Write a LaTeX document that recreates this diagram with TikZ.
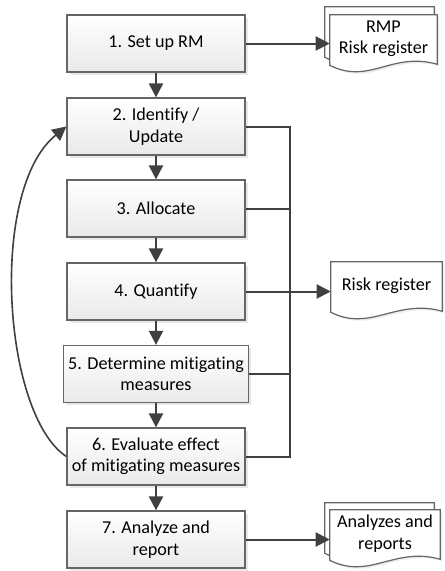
\documentclass[tikz,border=0pt]{standalone}
\usepackage{fontspec}
\setmainfont[Ligatures=NoCommon]{Carlito}
\usepackage{tikz}
\usetikzlibrary{arrows.meta,positioning,calc,shadows,backgrounds}
\definecolor{linegray}{HTML}{404040}
\definecolor{boxgray}{HTML}{666666}
\newcommand{\boxfont}{\fontsize{13.6}{16}\selectfont}
\newcommand{\docpath}[1]{\draw[doc](#1.north west)--(#1.north east)--([yshift=-1.5pt]#1.south east)
  .. controls +(-46,-13) and +(40,20) .. ([yshift=-2.25pt]#1.south west)--cycle;}

\begin{document}
\begin{tikzpicture}[x=0.75pt,y=-0.75pt,>={Triangle[length=10.5pt,width=10.5pt]},
  n/.style={rectangle,draw=boxgray,line width=0.9pt,top color=white,bottom color=gray!17,minimum width=133.5pt,
    minimum height=42.75pt,align=center,font=\boxfont,
    drop shadow={shadow xshift=2pt,shadow yshift=-2pt,opacity=.18}},
  d/.style={inner sep=0pt,minimum height=35.25pt,align=center,font=\boxfont},
  doc/.style={draw=boxgray,line width=0.9pt,fill=white,drop shadow={shadow xshift=1.5pt,shadow yshift=-1.5pt,opacity=.15}},
  l/.style={draw=linegray,line width=1.5pt}]
  \useasboundingbox (0,0) rectangle (444,571);
  % process steps
  \node[n](b1)at(156,43.5){1. Set up RM};
  \node[n](b2)at(156,126.5){2. Identify /\\Update};
  \node[n](b3)at(156,208.5){3. Allocate};
  \node[n](b4)at(156,291.5){4. Quantify};
  \node[n](b5)at(156,374){5. Determine mitigating\\measures};
  \node[n](b6)at(156,456.5){6. Evaluate effect\\of mitigating measures};
  \node[n](b7)at(156,539.5){7. Analyze and\\report};
  % documents
  \node[d,minimum width=81.75pt](d1b)at(379.5,30.5){};
  \node[d,minimum width=80.25pt](d1)at(383.5,38.5){RMP\\Risk register};
  \node[d,minimum width=83.25pt](d2)at(386.5,285.5){Risk register};
  \node[d,minimum width=81.75pt](d3b)at(379.5,526.5){};
  \node[d,minimum width=82.5pt](d3)at(385,533.5){Analyzes and\\reports};
  \begin{pgfonlayer}{background}
    \docpath{d1b}\docpath{d1}\docpath{d2}\docpath{d3b}\docpath{d3}
  \end{pgfonlayer}
  % flow
  \draw[l,->](b1)--(b2);\draw[l,->](b2)--(b3);\draw[l,->](b3)--(b4);
  \draw[l,->](b4)--(b5);\draw[l,->](b5)--(b6);\draw[l,->](b6)--(b7);
  \coordinate(bus)at(290,0);
  \draw[l](b2.east)--(b2.east-|bus)--(b6.east-|bus)--(b6.east);
  \draw[l](b3.east)--(b3.east-|bus);\draw[l](b5.east)--(b5.east-|bus);
  \draw[l,->](b1.east)--(b1.east-|d1.west);
  \draw[l,->](b4.east)--(b4.east-|d2.west);
  \draw[l,->](b7.east)--(b7.east-|d3.west);
  \draw[draw=linegray,line width=1.2pt,->](b6.west)..controls(3,415)and(-12,190)..(b2.west);
\end{tikzpicture}
\end{document}
